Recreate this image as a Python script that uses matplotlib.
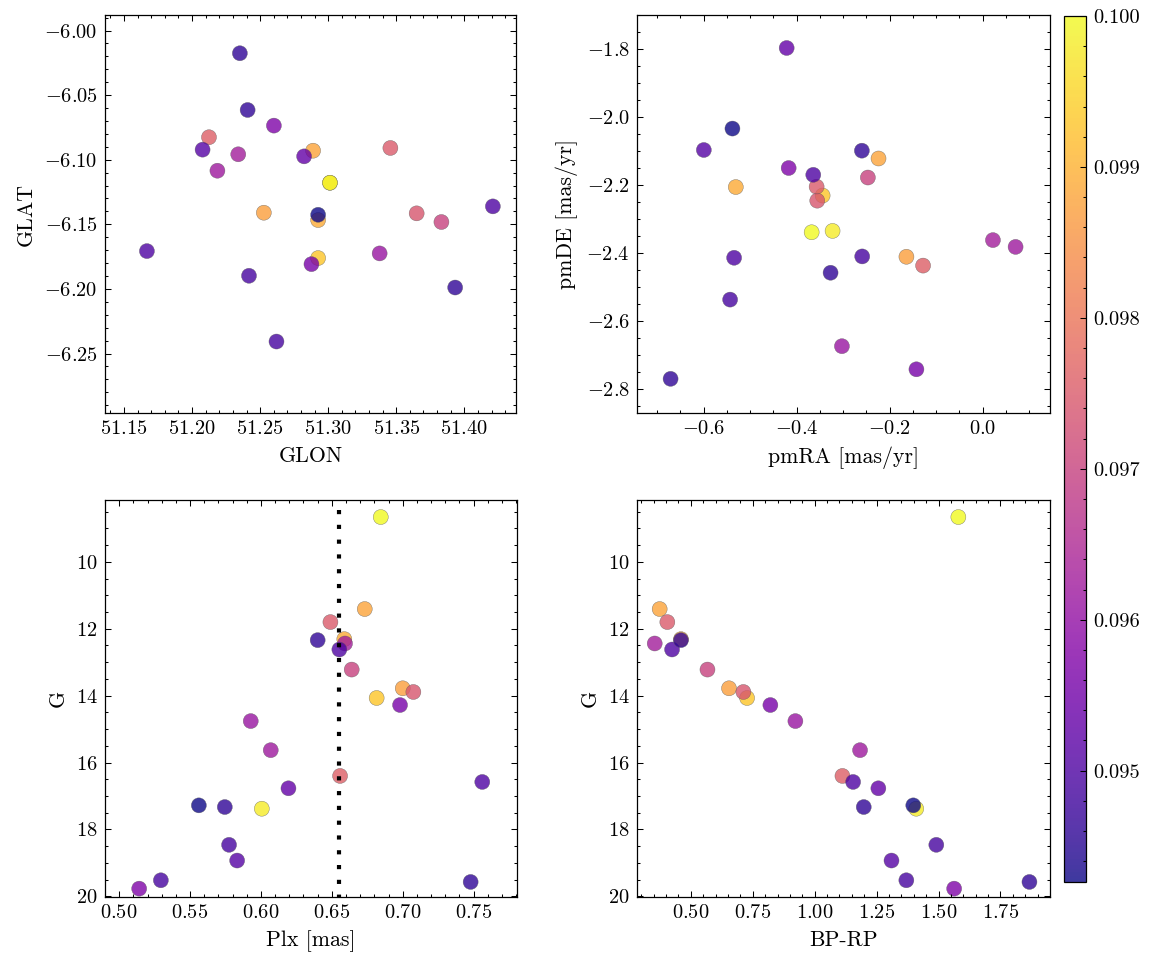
import numpy as np
import matplotlib
matplotlib.use("Agg")
import matplotlib.pyplot as plt
from matplotlib.ticker import MultipleLocator, FormatStrFormatter

# members sorted by membership probability (highest first = drawn first)
prob = [0.1000, 0.0998, 0.0993, 0.0989, 0.0988, 0.0987,
        0.0976, 0.0975, 0.0974, 0.0970,
        0.0963, 0.0962, 0.0961, 0.0957, 0.0956, 0.0953,
        0.0951, 0.0950, 0.0950, 0.0949, 0.0949, 0.0946, 0.0946, 0.0946, 0.09426]

gmag = [8.66, 17.38, 14.07, 12.31, 11.41, 13.78,
        16.40, 11.80, 13.89, 13.22,
        12.44, 15.63, 14.76, 19.77, 14.28, 16.77,
        18.93, 12.62, 16.58, 19.52, 18.46, 12.34, 17.33, 19.57, 17.28]

bp_rp = [1.580, 1.410, 0.727, 0.460, 0.374, 0.654,
         1.112, 0.405, 0.712, 0.567,
         0.354, 1.183, 0.922, 1.563, 0.821, 1.257,
         1.310, 0.424, 1.155, 1.370, 1.491, 0.460, 1.198, 1.867, 1.398]

plx = [0.6845, 0.6006, 0.6816, 0.6588, 0.6732, 0.7000,
       0.6558, 0.6490, 0.7075, 0.6640,
       0.6593, 0.6069, 0.5928, 0.5141, 0.6981, 0.6194,
       0.5832, 0.6553, 0.7561, 0.5294, 0.5775, 0.6400, 0.5745, 0.7479, 0.5562]

glon = [51.3013, 51.3013, 51.2926, 51.2926, 51.2889, 51.2527,
        51.2124, 51.3457, 51.3650, 51.3832,
        51.2339, 51.2186, 51.3378, 51.2601, 51.2877, 51.2823,
        51.2077, 51.4210, 51.1668, 51.2418, 51.2620, 51.2351, 51.2408, 51.3933, 51.2926]

glat = [-6.1178, -6.1178, -6.1761, -6.1467, -6.0930, -6.1410,
        -6.0826, -6.0909, -6.1415, -6.1482,
        -6.0958, -6.1085, -6.1725, -6.0736, -6.1808, -6.0974,
        -6.0922, -6.1361, -6.1707, -6.1898, -6.2407, -6.0176, -6.0615, -6.1989, -6.1426]

pmra = [-0.3675, -0.3225, -0.3439, -0.5306, -0.2237, -0.1637,
        -0.1279, -0.3568, -0.3554, -0.2466,
        0.0223, 0.0710, -0.3024, -0.4169, -0.1422, -0.4212,
        -0.5993, -0.3640, -0.5342, -0.2588, -0.5428, -0.2595, -0.3268, -0.6708, -0.5378]

pmde = [-2.339, -2.335, -2.231, -2.206, -2.122, -2.411,
        -2.437, -2.205, -2.246, -2.178,
        -2.362, -2.382, -2.674, -2.150, -2.742, -1.797,
        -2.097, -2.170, -2.414, -2.410, -2.537, -2.099, -2.458, -2.770, -2.034]

plx_line = 0.655

plt.rcParams.update({
    "font.family": "serif",
    "font.serif": ["cmr10"],
    "mathtext.fontset": "cm",
    "axes.formatter.use_mathtext": True,
    "font.size": 9.8,
    "axes.labelsize": 10.5,
    "xtick.labelsize": 9.8,
    "ytick.labelsize": 9.8,
    "axes.linewidth": 0.6,
    "xtick.direction": "in",
    "ytick.direction": "in",
    "xtick.top": True,
    "ytick.right": True,
    "xtick.major.size": 3,
    "ytick.major.size": 3,
    "xtick.minor.size": 1.5,
    "ytick.minor.size": 1.5,
    "xtick.major.width": 0.5,
    "ytick.major.width": 0.5,
    "xtick.minor.width": 0.5,
    "ytick.minor.width": 0.5,
    "xtick.minor.visible": True,
    "ytick.minor.visible": True,
})

W, H = 1155, 965
fig = plt.figure(figsize=(W / 150, H / 150), dpi=150)


def px_axes(x0, x1, y0, y1):
    return fig.add_axes([x0 / W, 1 - y1 / H, (x1 - x0) / W, (y1 - y0) / H])


ax1 = px_axes(105, 516, 15, 413)
ax2 = px_axes(637, 1050, 15, 413)
ax3 = px_axes(105, 517, 500, 897)
ax4 = px_axes(637, 1050, 500, 897)
cax = px_axes(1064, 1085.5, 16, 882.3)

vmin, vmax = min(prob), max(prob)
kw = dict(c=prob, cmap="plasma", vmin=vmin, vmax=vmax, s=52, alpha=0.8,
          edgecolors="0.35", linewidths=0.2)

sc = ax1.scatter(glon, glat, **kw)
ax1.set_xlim(51.136, 51.438)
ax1.set_ylim(-6.296, -5.988)
ax1.xaxis.set_major_locator(MultipleLocator(0.05))
ax1.xaxis.set_minor_locator(MultipleLocator(0.01))
ax1.yaxis.set_major_locator(MultipleLocator(0.05))
ax1.yaxis.set_minor_locator(MultipleLocator(0.01))
ax1.set_xlabel("GLON")
ax1.set_ylabel("GLAT")

ax2.scatter(pmra, pmde, **kw)
ax2.set_xlim(-0.743, 0.145)
ax2.set_ylim(-2.8705, -1.700)
ax2.xaxis.set_major_locator(MultipleLocator(0.2))
ax2.xaxis.set_minor_locator(MultipleLocator(0.05))
ax2.yaxis.set_major_locator(MultipleLocator(0.2))
ax2.yaxis.set_minor_locator(MultipleLocator(0.05))
ax2.set_xlabel("pmRA [mas/yr]")
ax2.set_ylabel("pmDE [mas/yr]")

ax3.scatter(plx, gmag, **kw)
ax3.plot([plx_line, plx_line], [8.45, 20.1], color="k", lw=2,
         ls=(0, (1, 2.55)), zorder=5)
ax3.set_xlim(0.490, 0.7806)
ax3.set_ylim(20.02, 8.15)
ax3.xaxis.set_major_locator(MultipleLocator(0.05))
ax3.xaxis.set_minor_locator(MultipleLocator(0.01))
ax3.yaxis.set_major_locator(MultipleLocator(2))
ax3.yaxis.set_minor_locator(MultipleLocator(0.5))
ax3.set_xlabel("Plx [mas]")
ax3.set_ylabel("G")

ax4.scatter(bp_rp, gmag, **kw)
ax4.set_xlim(0.2825, 1.950)
ax4.set_ylim(20.02, 8.15)
ax4.xaxis.set_major_locator(MultipleLocator(0.25))
ax4.xaxis.set_minor_locator(MultipleLocator(0.05))
ax4.yaxis.set_major_locator(MultipleLocator(2))
ax4.yaxis.set_minor_locator(MultipleLocator(0.5))
ax4.set_xlabel("BP-RP")
ax4.set_ylabel("G")

cb = fig.colorbar(sc, cax=cax)
cb.outline.set_linewidth(0.6)
cax.yaxis.set_major_locator(MultipleLocator(0.001))
cax.yaxis.set_minor_locator(MultipleLocator(0.0002))
cax.yaxis.set_major_formatter(FormatStrFormatter("%.3f"))
cax.tick_params(which="both", direction="in", right=True, left=False)
cax.tick_params(which="major", length=3)
cax.tick_params(which="minor", length=1.5)

fig.savefig("out.png", dpi=150)
